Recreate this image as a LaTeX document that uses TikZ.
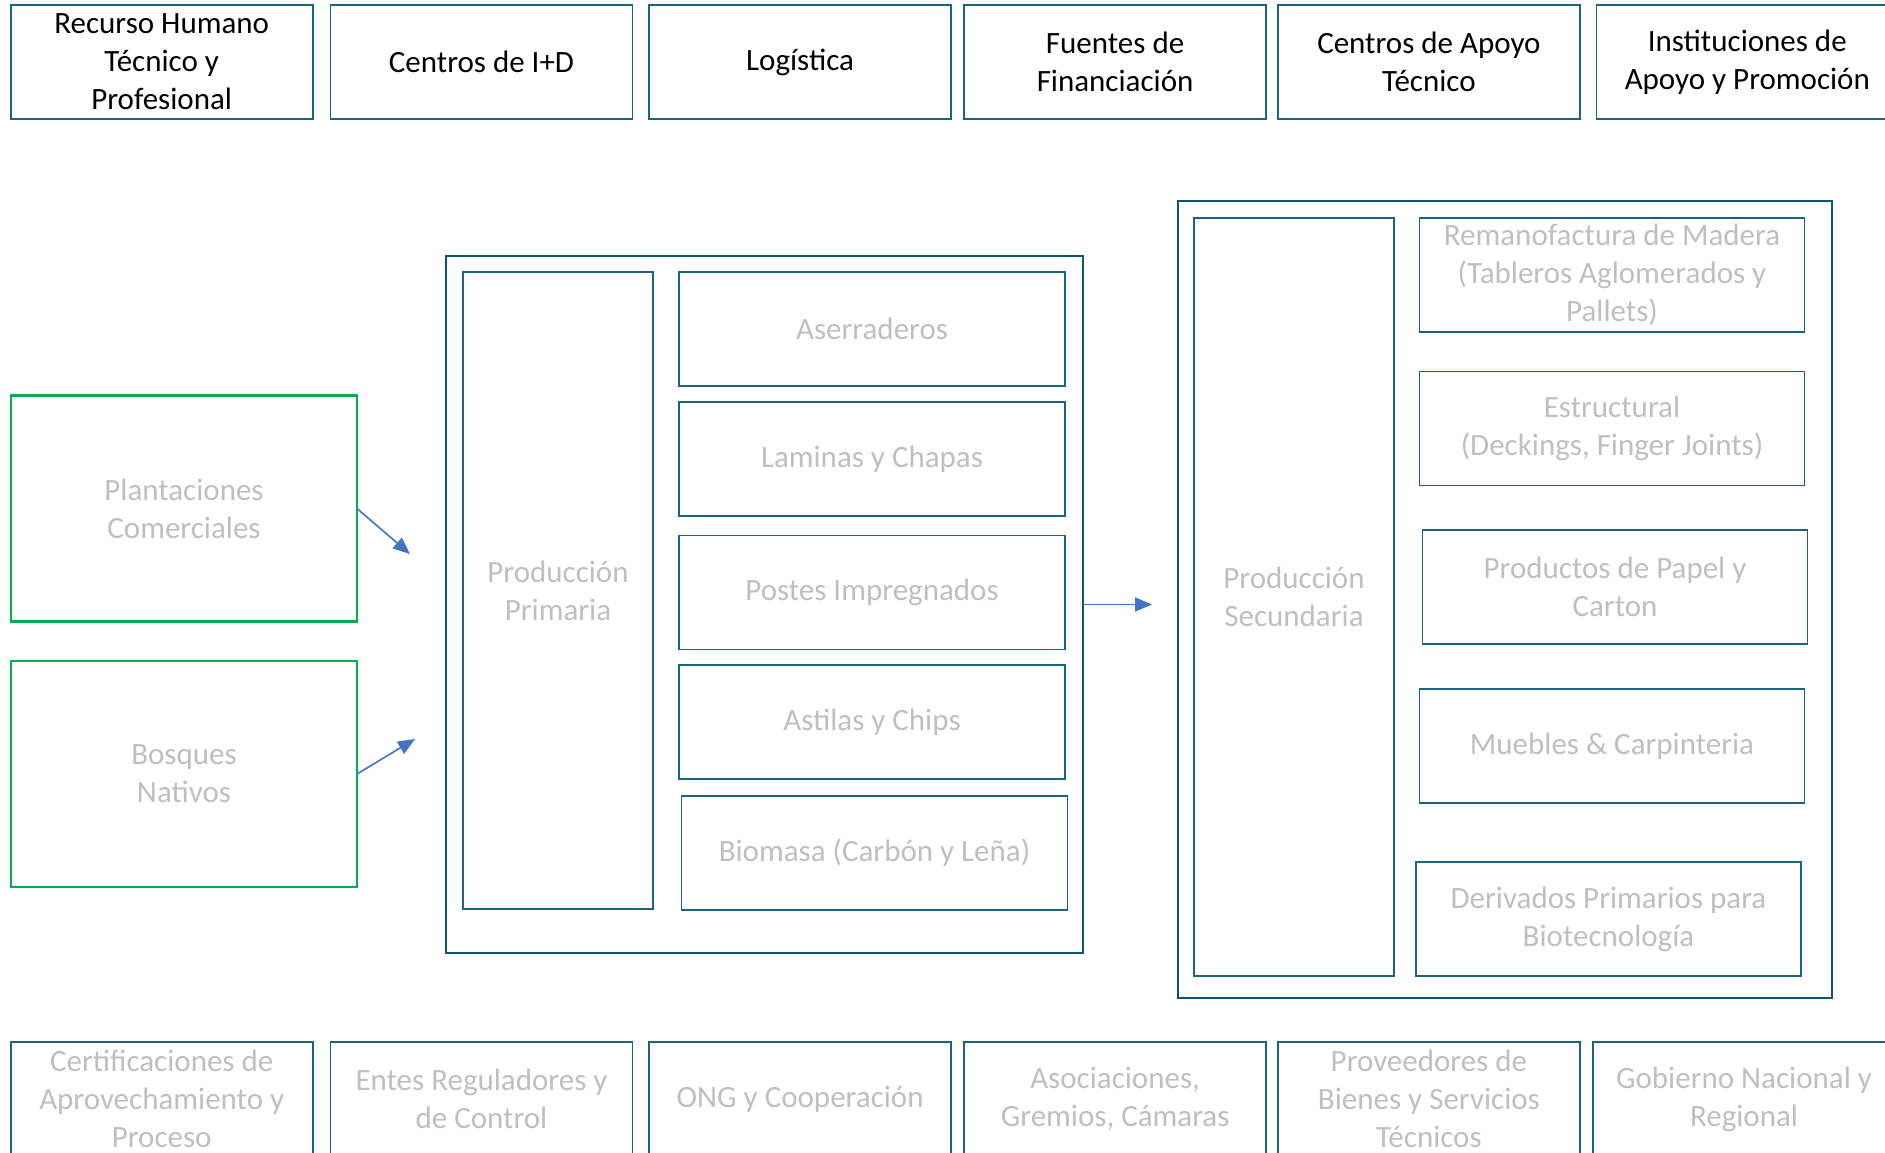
\documentclass[tikz,border=0pt]{standalone}
\usepackage{fontspec}
\setmainfont{Carlito}
\usetikzlibrary{arrows.meta}
\definecolor{teal1}{HTML}{1A6482}
\definecolor{teal2}{HTML}{0E5670}
\definecolor{gtext}{HTML}{BFBFBF}
\definecolor{grn}{HTML}{00B050}
\definecolor{arr}{HTML}{4472C4}
\tikzset{
  base/.style={rectangle, inner sep=0pt, outer sep=0pt, align=center,
    font=\fontsize{31}{38}\selectfont},
  topbox/.style={base, draw=teal1, line width=1.6pt, text=black,
    minimum width=302pt, minimum height=114pt},
  botbox/.style={base, draw=teal1, line width=1.6pt, text=gtext,
    minimum width=302pt, minimum height=114pt},
  subbox/.style={base, draw=teal1, line width=1.6pt, text=gtext,
    minimum height=114pt},
  frame/.style={base, draw=teal2, line width=2.6pt},
  greenbox/.style={base, draw=grn, line width=2.2pt, text=gtext,
    minimum width=346pt, minimum height=226pt},
  flow/.style={draw=arr, line width=1.6pt, -{Triangle[length=17pt,width=14pt]}}
}
\begin{document}
\begin{tikzpicture}[x=1pt,y=-1pt]
\useasboundingbox (0,0) rectangle (1885,1153);
% top row
\node[topbox] (t1) at (161.7,62) {Recurso Humano\\Técnico y\\Profesional};
\node[topbox] (t2) at (481.5,62) {Centros de I+D};
\node[topbox] (t3) at (800.1,62) {Logística};
\node[topbox] (t4) at (1115.1,62) {Fuentes de\\Financiación};
\node[topbox] (t5) at (1428.9,62) {Centros de Apoyo\\Técnico};
\node[topbox] (t6) at (1747.3,62) {Instituciones de\\Apoyo y Promoción};
% bottom row
\node[botbox] (b1) at (161.7,1099) {Certificaciones de\\Aprovechamiento y\\Proceso};
\node[botbox] (b2) at (481.5,1099) {Entes Reguladores y\\de Control};
\node[botbox] (b3) at (800.1,1099) {ONG y Cooperación};
\node[botbox] (b4) at (1115.1,1099) {Asociaciones,\\Gremios, Cámaras};
\node[botbox] (b5) at (1428.9,1099) {Proveedores de\\Bienes y Servicios\\Técnicos};
\node[botbox] (b6) at (1744,1099) {Gobierno Nacional y\\Regional};
% sources
\node[greenbox] (plant) at (184,508.5) {Plantaciones\\Comerciales};
\node[greenbox] (bosq) at (184,774) {Bosques\\Nativos};
% primary production
\node[frame, minimum width=637pt, minimum height=697pt] (prim) at (764.5,604.5) {};
\node[subbox, minimum width=190pt, minimum height=637pt] (pp) at (558,590.5) {Producción\\Primaria};
\node[subbox, minimum width=386pt] (ase) at (872,329) {Aserraderos};
\node[subbox, minimum width=386pt] (lam) at (872,459) {Laminas y Chapas};
\node[subbox, minimum width=386pt] (pos) at (872,592.5) {Postes Impregnados};
\node[subbox, minimum width=386pt] (ast) at (872,722) {Astilas y Chips};
\node[subbox, minimum width=386pt] (bio) at (874.5,853) {Biomasa (Carbón y Leña)};
% secondary production
\node[frame, minimum width=654pt, minimum height=797pt] (sec) at (1505,599.5) {};
\node[subbox, minimum width=200pt, minimum height=758pt] (ps) at (1294,597) {Producción\\Secundaria};
\node[subbox, minimum width=385pt] (rem) at (1612,275) {Remanofactura de Madera\\(Tableros Aglomerados y\\Pallets)};
\node[subbox, minimum width=385pt] (est) at (1612,428.5) {Estructural\\(Deckings, Finger Joints)};
\node[subbox, minimum width=385pt] (pap) at (1615,587) {Productos de Papel y\\Carton};
\node[subbox, minimum width=385pt] (mue) at (1612,746) {Muebles \& Carpinteria};
\node[subbox, minimum width=385pt] (der) at (1608.5,919) {Derivados Primarios para\\Biotecnología};
% connectors
\coordinate (e1) at (410,554);
\coordinate (e2) at (415,739);
\coordinate (e3) at (1152,604.5);
\draw[flow] (plant.east) -- (e1);
\draw[flow] (bosq.east) -- (e2);
\draw[flow] (prim.east) -- (e3);
\end{tikzpicture}
\end{document}
